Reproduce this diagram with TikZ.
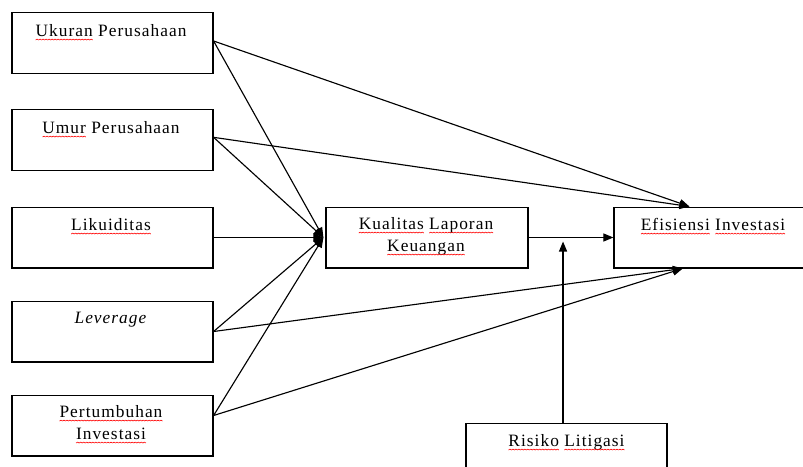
\documentclass[tikz,border=0pt]{standalone}
\usepackage{fontspec}
\setmainfont{Liberation Serif}[LetterSpace=6]
\usetikzlibrary{arrows.meta,calc}
\newcommand\wavepiece{\tikz[baseline=0pt]{\useasboundingbox (0pt,0pt) rectangle (2.2pt,0.7pt);\draw[red, line width=0.45pt, line join=round] (0pt,0pt) -- (1.1pt,0.7pt) -- (2.2pt,0pt);}}
\newcommand\sq[1]{\setbox0=\hbox{#1}\leavevmode\rlap{\copy0}\raisebox{-3pt}{\hbox to \wd0{\xleaders\hbox{\wavepiece}\hfil}}}
\tikzset{
  x=0.75pt, y=-0.75pt,
  box/.style={draw, line width=0.9pt, rectangle, inner sep=0pt, minimum width=150.75pt, minimum height=45.6pt},
  txt/.style={font=\fontsize{13pt}{16.5pt}\selectfont, align=center, inner sep=0pt},
  arr/.style={line width=0.85pt, -{Triangle[length=7.5pt,width=6pt]}}
}
\begin{document}
\begin{tikzpicture}
\useasboundingbox (0,0) rectangle (803,467);
\clip (0,0) rectangle (803,467);
% boxes
\node[box] (uk) at (112.5,43) {};
\node[box] (um) at (112.5,140) {};
\node[box] (li) at (112.5,237.5) {};
\node[box] (le) at (112.5,331.5) {};
\node[box] (pe) at (112.5,425.5) {};
\node[box, minimum width=151.5pt] (kl) at (427,237.5) {};
\node[box, minimum width=154.5pt] (ef) at (717,237.5) {};
\node[box] (ri) at (566.5,454) {};
% texts
\node[txt] (tuk) at (111,32) {\sq{Ukuran} Perusahaan};
\node[txt] (tum) at (111,129) {\sq{Umur} Perusahaan};
\node[txt] (tli) at (111,226) {\sq{Likuiditas}};
\node[txt] (tle) at (111,320) {\textit{Leverage}};
\node[txt] (tpe) at (111,424) {\sq{Pertumbuhan}\\\sq{Investasi}};
\node[txt] (tkl) at (426,236) {\sq{Kualitas} \sq{Laporan}\\\sq{Keuangan}};
\node[txt] (tef) at (713,226) {\sq{Efisiensi} \sq{Investasi}};
\node[txt] (tri) at (566.5,442) {\sq{Risiko} \sq{Litigasi}};
% target points
\coordinate (kin) at ([xshift=-1.5pt]kl.west);
\coordinate (etop) at ([xshift=57pt]ef.north west);
\coordinate (ebot) at ([xshift=52pt]ef.south west);
% connectors into Kualitas
\draw[arr] ([yshift=1.5pt]uk.east) -- (kin);
\draw[arr] ([yshift=2pt]um.east) -- (kin);
\draw[arr] (li.east) -- (kin);
\draw[arr] (le.east) -- (kin);
\draw[arr] ([yshift=7.5pt]pe.east) -- (kin);
% connectors into Efisiensi
\draw[arr] ([yshift=1.5pt]uk.east) -- (etop);
\draw[arr] ([yshift=2pt]um.east) -- (etop);
\draw[arr] (le.east) -- (ebot);
\draw[arr] ([yshift=7.5pt]pe.east) -- (ebot);
\draw[arr] (kl.east) -- (ef.west);
% moderator
\draw[arr] ([xshift=-2.6pt]ri.north) -- ([xshift=-2.6pt,yshift=-3pt]ri.north |- kl.east);
\end{tikzpicture}
\end{document}
